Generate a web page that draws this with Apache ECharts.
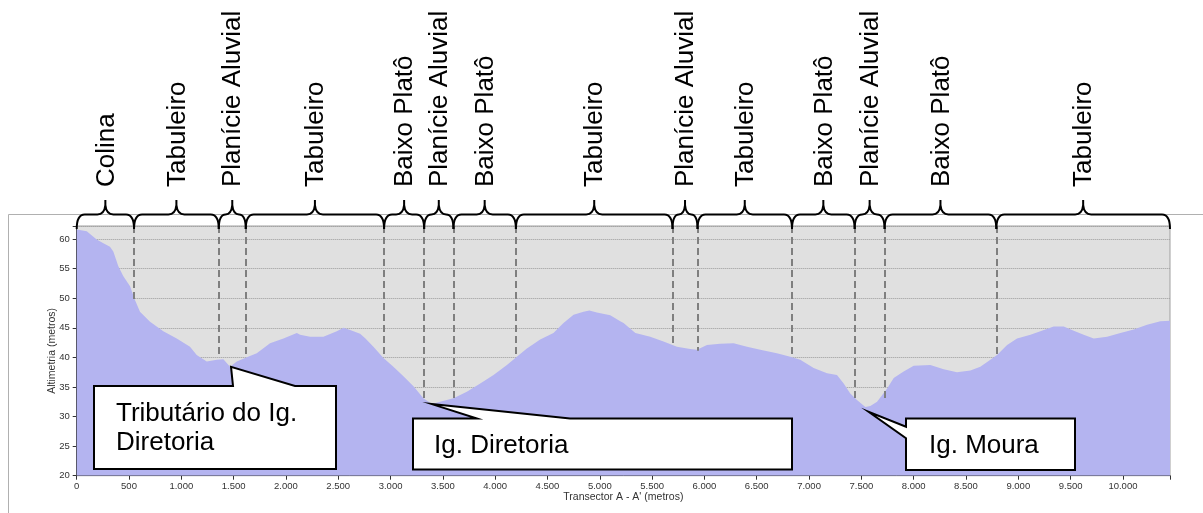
<!DOCTYPE html>
<html>
<head>
<meta charset="utf-8">
<script src="https://cdn.jsdelivr.net/npm/echarts@6/dist/echarts.min.js"></script>
<style>
html,body{margin:0;padding:0;background:#fff;}
#chart{width:1203px;height:513px;}
</style>
</head>
<body>
<div id="chart"></div>
<script>
// ---- Data ----
const distances = [0,96,191,255,318,350,398,446,510,557,605,701,828,956,1083,1147,1243,1339,1402,1466,1530,1626,1721,1848,1976,2104,2135,2231,2358,2486,2550,2620,2709,2760,2836,2932,3027,3123,3219,3314,3395,3474,3601,3729,3857,3984,4112,4207,4303,4430,4557,4653,4749,4844,4900,4972,5100,5195,5227,5340,5482,5609,5737,5864,5929,6024,6151,6279,6407,6534,6693,6821,6916,7044,7172,7267,7331,7394,7458,7538,7586,7650,7745,7809,7904,8000,8159,8287,8414,8542,8637,8733,8797,8893,8988,9116,9211,9338,9434,9530,9625,9721,9849,9976,10103,10231,10358,10450];
const altitudes = [61.6,61.3,59.9,59.3,58.7,57.9,55.4,53.7,52.0,49.7,47.7,46.0,44.4,43.2,41.8,40.4,39.3,39.6,39.7,38.4,39.3,40.0,40.7,42.4,43.2,44.1,43.8,43.5,43.5,44.4,45.0,44.6,44.0,43.2,41.8,39.9,38.4,36.8,35.1,33.1,32.1,32.5,33.1,34.2,35.6,37.0,38.7,40.1,41.5,43.0,44.1,45.8,47.2,47.7,47.9,47.6,47.1,46.1,45.8,44.1,43.5,42.7,41.8,41.4,41.3,42.1,42.3,42.4,41.8,41.3,40.7,40.1,39.6,38.2,37.3,37.0,35.6,33.9,32.8,31.6,31.8,32.5,34.7,36.5,37.6,38.6,38.7,38.0,37.5,37.8,38.4,39.6,40.4,42.1,43.2,43.8,44.4,45.2,45.2,44.5,43.8,43.2,43.5,44.1,44.7,45.5,46.1,46.2];

// unit boundaries (m) and where each dashed boundary line stops (m altitude)
const boundaries = [548,1358,1616,2938,3321,3601,4198,5695,5934,6837,7436,7722,8790];
const dashEnds = [49.7,40.1,40.1,40.1,32.8,32.8,40.1,42.4,41.1,40.1,32.8,32.8,40.1];
const unitNames = ['Colina','Tabuleiro','Planície Aluvial','Tabuleiro','Baixo Platô','Planície Aluvial','Baixo Platô','Tabuleiro','Planície Aluvial','Tabuleiro','Baixo Platô','Planície Aluvial','Baixo Platô','Tabuleiro'];

// callouts: tip position in data units and text
const calloutTipX = [1475,3395,7569];
const calloutTipY = [38.4,32.1,30.8];
const calloutTexts = [['Tributário do Ig.','Diretoria'],['Ig. Diretoria'],['Ig. Moura']];

// axis
const xMin = 0, xMax = 10450, xStep = 500;
const yMin = 20, yMax = 62.2, yStep = 5;
const xAxisName = "Transector A - A' (metros)";
const yAxisName = 'Altimetria (metros)';

// ---- Layout (pixels) ----
const FONT = "'Liberation Sans', Arial, sans-serif";
const calloutLayout = [
  {box:[94,386,336,469], base:'top', b0:233, b1:295, textX:116, textY:[414,443]},
  {box:[413,418.5,792,469.5], base:'top', b0:477, b1:570, textX:434, textY:[446]},
  {box:[906,418.5,1075,470], base:'left', b0:426.7, b1:438.3, textX:929, textY:[446]}
];

const profile = distances.map((d,i)=>[d, altitudes[i]]);
const edges = [xMin].concat(boundaries, [xMax]);
const segments = unitNames.map((n,i)=>[edges[i], edges[i+1], i]);
const callouts = calloutTipX.map((x,i)=>[x, calloutTipY[i], i]);

function fmtThousands(v){
  return String(v).replace(/\B(?=(\d{3})+(?!\d))/g,'.');
}

const chart = echarts.init(document.getElementById('chart'), null, {renderer:'canvas'});
chart.setOption({
  animation:false,
  backgroundColor:'#ffffff',
  graphic:[{
    type:'polyline', z:0, silent:true,
    shape:{points:[[8.5,513],[8.5,214.5],[1203,214.5]]},
    style:{stroke:'#b0b0b0', lineWidth:1, fill:'none'}
  }],
  grid:{
    left:76.7, right:33, top:226, bottom:37.3,
    show:true, backgroundColor:'#e0e0e0', borderColor:'#a0a0a0', borderWidth:1
  },
  xAxis:{
    type:'value', min:xMin, max:xMax, interval:xStep,
    name:xAxisName, nameLocation:'middle', nameGap:16, nameMoveOverlap:false,
    nameTextStyle:{fontFamily:FONT, fontSize:10.5, color:'#333'},
    axisLine:{show:true, onZero:false, lineStyle:{color:'#333', width:1}},
    axisTick:{show:true, length:4, lineStyle:{color:'#333'}},
    axisLabel:{fontFamily:FONT, fontSize:9.5, color:'#333', margin:6,
      formatter:v=> (v % xStep === 0 ? fmtThousands(v) : '')},
    splitLine:{show:false}
  },
  yAxis:{
    type:'value', min:yMin, max:yMax, interval:yStep,
    name:yAxisName, nameLocation:'middle', nameGap:19, nameMoveOverlap:false,
    nameTextStyle:{fontFamily:FONT, fontSize:10.5, color:'#333'},
    axisLine:{show:true, lineStyle:{color:'#333', width:1}},
    axisTick:{show:true, length:4, lineStyle:{color:'#333'}},
    axisLabel:{fontFamily:FONT, fontSize:9.5, color:'#333', margin:7,
      formatter:v=> (v % yStep === 0 ? String(v) : '')},
    splitLine:{show:true, lineStyle:{type:'dotted', color:'#9a9a9a', width:1}}
  },
  series:[
    {
      type:'line', data:profile, symbol:'none', z:2,
      lineStyle:{width:0},
      areaStyle:{color:'#b4b4f0', opacity:1, origin:'start'},
      markLine:{
        silent:true, symbol:['none','none'], z:3,
        label:{show:false},
        lineStyle:{type:[7,4], color:'#7f7f7f', width:2},
        data: boundaries.map((b,i)=>[{coord:[b,yMax]},{coord:[b,dashEnds[i]]}])
      }
    },
    {
      type:'custom', data:segments, z:5, clip:false, silent:true,
      renderItem:function(params, api){
        const x0 = api.value(0), x1 = api.value(1), idx = api.value(2);
        const p0 = api.coord([x0, yMax]), p1 = api.coord([x1, yMax]);
        const a = p0[0], b = p1[0], top = p0[1];
        const m = (a+b)/2;
        const yEnd = top+3, yLine = top-11.5, yTip = top-26;
        const r = Math.min(8, (b-a)/4);
        const path = 'M'+a+','+yEnd+
          ' Q'+a+','+yLine+' '+(a+r)+','+yLine+
          ' L'+(m-r)+','+yLine+
          ' Q'+(m-1)+','+yLine+' '+m+','+(yTip+5)+
          ' L'+m+','+yTip+
          ' M'+m+','+(yTip+5)+
          ' Q'+(m+1)+','+yLine+' '+(m+r)+','+yLine+
          ' L'+(b-r)+','+yLine+
          ' Q'+b+','+yLine+' '+b+','+yEnd;
        return {
          type:'group',
          children:[
            {type:'path', shape:{pathData:path}, style:{fill:null, stroke:'#000', lineWidth:2}},
            {type:'text', x:m+1, y:top-39, rotation:Math.PI/2,
              style:{text:unitNames[idx], fontFamily:FONT, fontSize:26, fill:'#000', align:'left', verticalAlign:'middle'}}
          ]
        };
      }
    },
    {
      type:'custom', data:callouts, z:6, clip:false, silent:true,
      renderItem:function(params, api){
        const idx = api.value(2);
        const tip = api.coord([api.value(0), api.value(1)]);
        const L = calloutLayout[idx];
        const [x0,y0,x1,y1] = L.box;
        let pts;
        if (L.base === 'top') {
          pts = [[x0,y0],[L.b0,y0],tip,[L.b1,y0],[x1,y0],[x1,y1],[x0,y1]];
        } else {
          pts = [[x0,y0],[x1,y0],[x1,y1],[x0,y1],[x0,L.b1],tip,[x0,L.b0]];
        }
        const children = [{type:'polygon', shape:{points:pts}, style:{fill:'#fff', stroke:'#000', lineWidth:2, lineJoin:'miter'}}];
        calloutTexts[idx].forEach((t,k)=>{
          children.push({type:'text', x:L.textX, y:L.textY[k],
            style:{text:t, fontFamily:FONT, fontSize:26, fill:'#000', align:'left', verticalAlign:'middle'}});
        });
        return {type:'group', children:children};
      }
    }
  ]
});
</script>
</body>
</html>
